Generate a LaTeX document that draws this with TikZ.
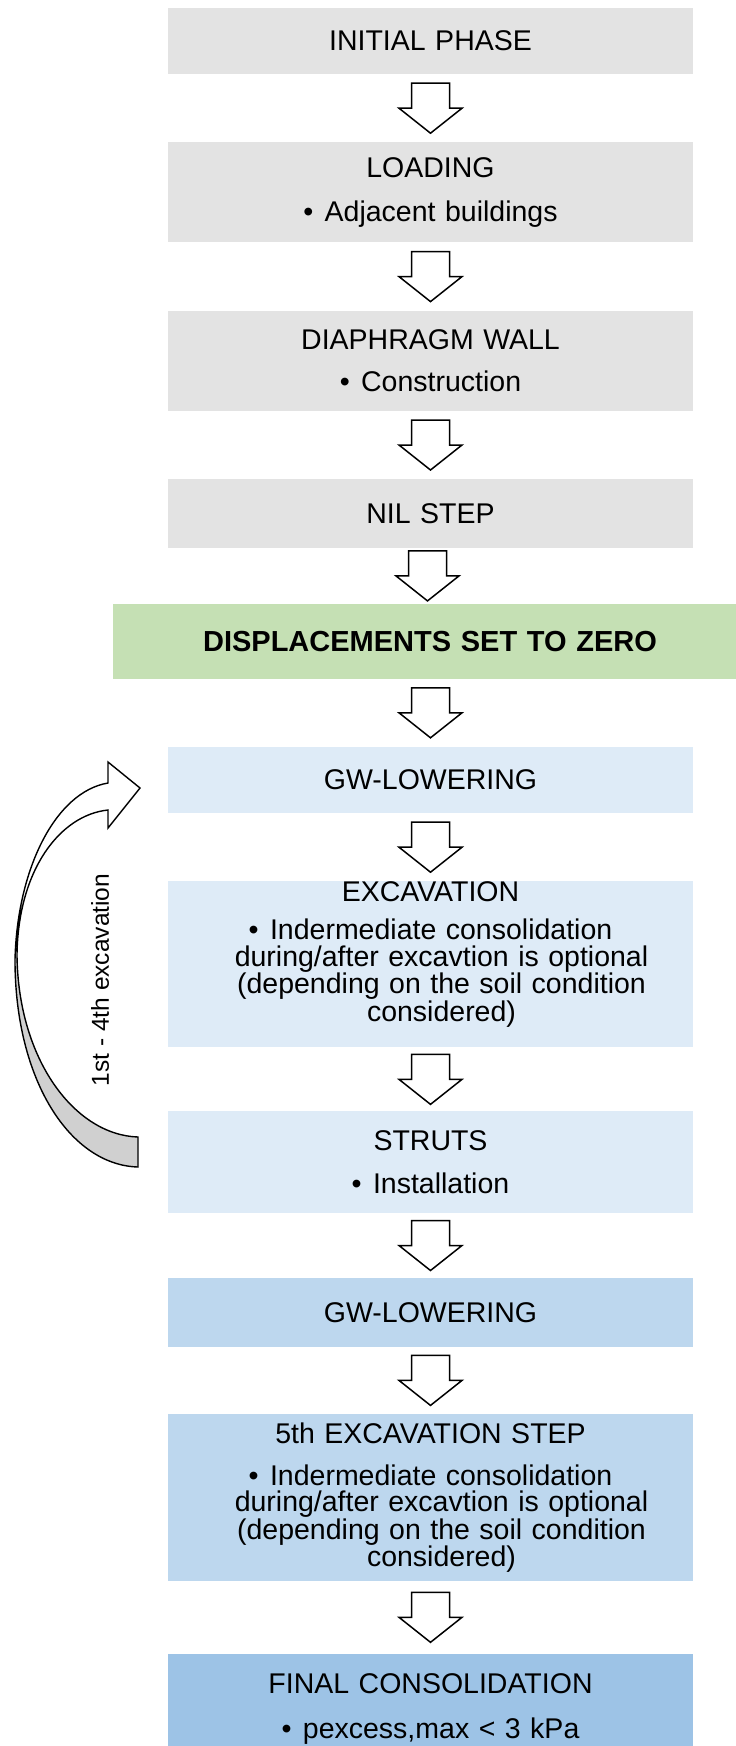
\documentclass[tikz,border=0pt]{standalone}
\usepackage{fontspec}
\setmainfont{Liberation Sans}
\usetikzlibrary{positioning,calc}
\definecolor{phasegray}{HTML}{E3E3E3}
\definecolor{zerogreen}{HTML}{C5E0B4}
\definecolor{steplight}{HTML}{DEEBF7}
\definecolor{stepmid}{HTML}{BDD7EE}
\definecolor{stepdark}{HTML}{9DC3E6}
\definecolor{loopgray}{HTML}{D0D0D0}
\newcommand{\hang}{\hspace*{22pt}}

\begin{document}
\begin{tikzpicture}[x=1pt,y=1pt,node distance=68pt,font=\fontsize{28.5}{26.5}\selectfont]

\tikzset{
b/.style={
    fill=#1,
    inner xsep=12.5pt,
    inner ysep=0pt,
    text width=500pt,
    minimum height=66pt,
    align=center
},
flowarr/.pic={
    \draw[line width=1.5pt,fill=white] (-19,25) -- (19,25) -- (19,0) -- (31.5,0)
        -- (0,-25) -- (-31.5,0) -- (-19,0) -- cycle;
},
loopline/.style={line width=1.4pt,line join=miter}
}

\useasboundingbox (0,0) rectangle (736,-1746);
\clip (0,0) rectangle (736,-1746);

\node[b=phasegray] (init) at (430.5,-41) {INITIAL PHASE};
\node[b=phasegray,minimum height=100pt,below=of init] (load) {LOADING\\[18pt]•\hspace{0.4em}Adjacent buildings};
\node[b=phasegray,minimum height=100pt,below=of load] (wall) {DIAPHRAGM WALL\\[16pt]•\hspace{0.4em}Construction};
\node[b=phasegray,minimum height=69pt,below=of wall] (nil) {NIL STEP};
\node[b=zerogreen,text width=598pt,minimum height=75pt,below=55pt of nil,xshift=-6pt,font=\fontsize{29}{26.5}\selectfont\bfseries] (zero) {\hspace*{11pt}DISPLACEMENTS SET TO ZERO};
\node[b=steplight,below=of zero,xshift=6pt] (gw) {GW-LOWERING};
\node[b=steplight,minimum height=166pt,below=of gw] (exc) {EXCAVATION\\[11.5pt]•\hspace{0.4em}Indermediate consolidation\\\hang during/after excavtion is optional\\\hang (depending on the soil condition\\\hang considered)\rule[-26pt]{0pt}{26pt}};
\node[b=steplight,minimum height=102pt,below=63.5pt of exc] (strut) {STRUTS\\[17pt]•\hspace{0.4em}Installation};
\node[b=stepmid,minimum height=69pt,below=64pt of strut] (gwlast) {GW-LOWERING};
\node[b=stepmid,minimum height=167pt,below=67pt of gwlast] (excfive) {5th EXCAVATION STEP\\[15.8pt]•\hspace{0.4em}Indermediate consolidation\\\hang during/after excavtion is optional\\\hang (depending on the soil condition\\\hang considered)};
\node[b=stepdark,minimum height=111pt,below=72pt of excfive] (final) {FINAL CONSOLIDATION\\[18pt]•\hspace{0.4em}pexcess,max < 3 kPa};

\foreach \a/\b in {init/load,load/wall,wall/nil,nil/zero,gw/exc,exc/strut,strut/gwlast,gwlast/excfive,excfive/final}
    \pic at ($(\a.south)!.5!(\b.north)$) {flowarr};
\pic at ($(zero.south -| gw)!.5!(gw.north)$) {flowarr};

% loop back over the 1st - 4th excavation
\fill[loopgray] (17,-955) .. controls (18,-1060) and (75,-1135) .. (138,-1137)
    -- (138,-1167) .. controls (70,-1165) and (15,-1080) .. (15,-960) -- cycle;
\fill[white] (15,-960) .. controls (17,-870) and (55,-792) .. (108,-783)
    -- (108,-762) -- (140,-788) -- (108,-828) -- (108,-810)
    .. controls (60,-815) and (18,-870) .. (17,-955) -- cycle;
\draw[loopline] (138,-1167) .. controls (70,-1165) and (15,-1080) .. (15,-960)
    .. controls (17,-870) and (55,-792) .. (108,-783)
    -- (108,-762) -- (140,-788) -- (108,-828) -- (108,-810)
    .. controls (60,-815) and (18,-870) .. (17,-955)
    .. controls (18,-1060) and (75,-1135) .. (138,-1137) -- cycle;
\node[rotate=90,font=\fontsize{24.5}{24.5}\selectfont] (looplbl) at (100,-980) {1st - 4th excavation};

\end{tikzpicture}
\end{document}
